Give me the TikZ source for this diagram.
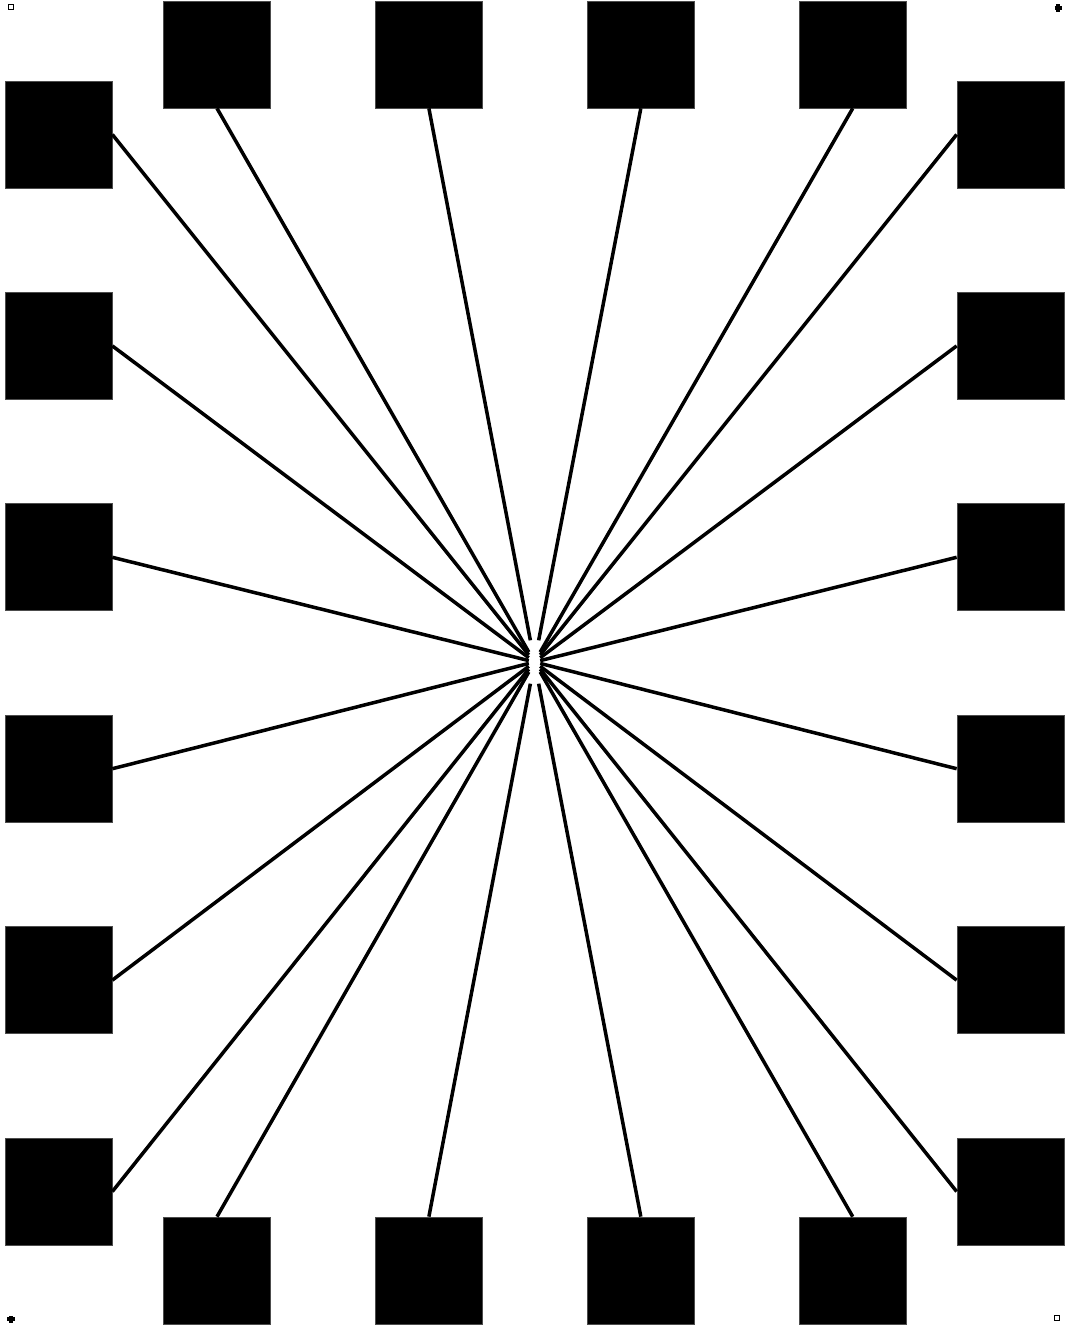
\documentclass[tikz,border=0pt]{standalone}
\usetikzlibrary{positioning}
\tikzset{
    % Square pads
    pad/.style={
        rectangle,
        draw=black!70,
        line width=0.2pt,
        fill=black,
        minimum width=1.07cm,
        minimum height=1.07cm,
        inner sep=0pt
    },
    core/.style={
        rectangle,
        draw=none,
        minimum width=0.1cm,
        minimum height=0.42cm,
        inner sep=0pt
    },
    wire/.style={
        line width=1pt,
        color=black
    },
    mark box/.style={
        rectangle,
        draw=black,
        line width=0.5pt,
        minimum size=0.05cm,
        inner sep=0pt
    },
    mark cross/.style={
        line width=1.2pt,
        color=black
    }
}
\begin{document}
\begin{tikzpicture}[node distance=1.037cm and 1.042cm]
    \useasboundingbox (0,0) rectangle (10.65,-13.25);

    % Centre point
    \node[core] (hub) at (5.345,-6.62) {};

    % Left column
    \node[pad] (l1) at (0.585,-1.345) {};
    \node[pad, below=of l1] (l2) {};
    \node[pad, below=of l2] (l3) {};
    \node[pad, below=of l3] (l4) {};
    \node[pad, below=of l4] (l5) {};
    \node[pad, below=of l5] (l6) {};

    % Right column
    \node[pad] (r1) at (10.105,-1.345) {};
    \node[pad, below=of r1] (r2) {};
    \node[pad, below=of r2] (r3) {};
    \node[pad, below=of r3] (r4) {};
    \node[pad, below=of r4] (r5) {};
    \node[pad, below=of r5] (r6) {};

    % Top row
    \node[pad] (t1) at (2.17,-0.545) {};
    \node[pad, right=of t1] (t2) {};
    \node[pad, right=of t2] (t3) {};
    \node[pad, right=of t3] (t4) {};

    % Bottom row
    \node[pad] (b1) at (2.17,-12.705) {};
    \node[pad, right=of b1] (b2) {};
    \node[pad, right=of b2] (b3) {};
    \node[pad, right=of b3] (b4) {};

    % Corner marks
    \node[mark box] (mtl) at (0.11,-0.07) {};
    \node[mark box] (mbr) at (10.57,-13.18) {};
    \coordinate (mtr) at (10.58,-0.08);
    \coordinate (mbl) at (0.11,-13.19);
    \draw[mark cross] ([xshift=-0.035cm]mtr) -- ([xshift=0.035cm]mtr);
    \draw[mark cross] ([yshift=-0.035cm]mtr) -- ([yshift=0.035cm]mtr);
    \draw[mark cross] ([xshift=-0.035cm]mbl) -- ([xshift=0.035cm]mbl);
    \draw[mark cross] ([yshift=-0.035cm]mbl) -- ([yshift=0.035cm]mbl);

    % Wires
    \draw[wire] (l1.east) -- (hub);
    \draw[wire] (l2.east) -- (hub);
    \draw[wire] (l3.east) -- (hub);
    \draw[wire] (l4.east) -- (hub);
    \draw[wire] (l5.east) -- (hub);
    \draw[wire] (l6.east) -- (hub);
    \draw[wire] (r1.west) -- (hub);
    \draw[wire] (r2.west) -- (hub);
    \draw[wire] (r3.west) -- (hub);
    \draw[wire] (r4.west) -- (hub);
    \draw[wire] (r5.west) -- (hub);
    \draw[wire] (r6.west) -- (hub);
    \draw[wire] (t1.south) -- (hub);
    \draw[wire] (t2.south) -- (hub);
    \draw[wire] (t3.south) -- (hub);
    \draw[wire] (t4.south) -- (hub);
    \draw[wire] (b1.north) -- (hub);
    \draw[wire] (b2.north) -- (hub);
    \draw[wire] (b3.north) -- (hub);
    \draw[wire] (b4.north) -- (hub);
\end{tikzpicture}
\end{document}
